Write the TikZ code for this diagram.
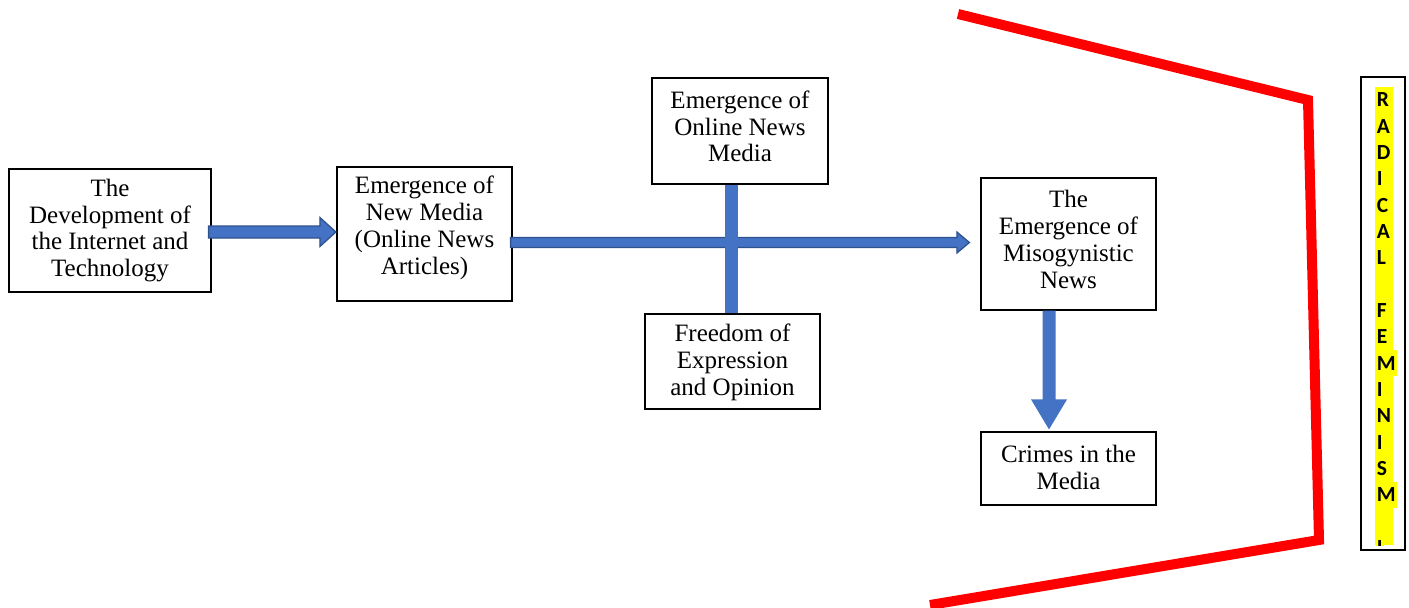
\documentclass[tikz,border=0pt]{standalone}
\usepackage{fontspec}
\setmainfont{Liberation Serif}
\newfontfamily\radfont{Carlito}
\usetikzlibrary{calc}
\definecolor{abl}{HTML}{4472C4}
\definecolor{abd}{HTML}{2F528F}
\definecolor{hly}{HTML}{FFFF00}
\newcommand\harr[6]{%
  \draw[#6] ($(#1)+(0,-#3)$) -- ($(#2)+(-#5,-#3)$) -- ($(#2)+(-#5,-#4)$) -- (#2)
    -- ($(#2)+(-#5,#4)$) -- ($(#2)+(-#5,#3)$) -- ($(#1)+(0,#3)$) -- cycle;}
\begin{document}
\begin{tikzpicture}[x=1pt,y=-1pt,
  box/.style={draw=black,line width=1.2pt,inner sep=0pt},
  txt/.style={align=center,font=\fontsize{25}{26.8}\selectfont,inner sep=0pt},
  barrow/.style={fill=abl,draw=abd,line width=1.3pt,line join=miter},
  letr/.style={font=\radfont\bfseries\fontsize{21.5}{21.5}\selectfont,fill=hly,
    inner xsep=1.2pt,inner ysep=0pt,minimum height=26.33pt,anchor=west},
  redline/.style={draw=red,line width=10pt,line join=miter}]
\useasboundingbox (0,0) rectangle (1409,608);

% boxes
\node[box,minimum width=202,minimum height=123] (b1) at (110,230.5) {};
\node[box,minimum width=175,minimum height=134] (b2) at (424.5,234) {};
\node[box,minimum width=176,minimum height=106] (b3) at (740,131) {};
\node[box,minimum width=175,minimum height=95] (b4) at (732.5,361.5) {};
\node[box,minimum width=175,minimum height=132] (b5) at (1068.5,244) {};
\node[box,minimum width=175,minimum height=73] (b6) at (1068.5,468.5) {};
\node[box,minimum width=44,minimum height=473] (b7) at (1383,313.5) {};

% texts
\node[txt] (t1) at (110,230.5) {The\\Development of\\the Internet and\\Technology};
\node[txt] (t2) at (424.5,228) {Emergence of\\New Media\\(Online News\\Articles)};
\node[txt] (t3) at (740,126.5) {Emergence of\\Online News\\Media};
\node[txt] (t4) at (732.5,362.5) {Freedom of\\Expression\\and Opinion};
\node[txt] (t5) at (1068.5,239.5) {The\\Emergence of\\Misogynistic\\News};
\node[txt] (t6) at (1068.5,467.5) {Crimes in the\\Media};

% arrow 1
\path (b1.east |- 0,232) ++(-3,0) coordinate (a1t);
\path (b2.west |- 0,232) ++(-0.5,0) coordinate (a1h);
\harr{a1t}{a1h}{6}{14.5}{16}{barrow}

% arrow 2
\path (b2.east |- 0,242.5) ++(-2,0) coordinate (a2t);
\path (b5.west |- 0,242.5) ++(-11,0) coordinate (a2h);
\harr{a2t}{a2h}{5}{10.5}{12.5}{barrow}

% vertical bar
\path (b3.south -| 731.5,0) coordinate (v1);
\path (b4.north -| 731.5,0) coordinate (v2);
\fill[abl] ($(v1)+(-6.5,0)$) rectangle ($(v2)+(6.5,0)$);

% down arrow
\path (b5.south -| 1049,0) coordinate (d1);
\path (b6.north -| 1049,0) ++(0,-2) coordinate (d2);
\fill[abl] ($(d1)+(-6.5,0)$) -- ($(d2)+(-6.5,-30)$) -- ($(d2)+(-18,-30)$) -- (d2)
  -- ($(d2)+(18,-30)$) -- ($(d2)+(6.5,-30)$) -- ($(d1)+(6.5,0)$) -- cycle;

% red bracket
\coordinate (r1) at (958,14);
\coordinate (r2) at (1308,100);
\coordinate (r3) at (1319,540);
\coordinate (r4) at (930,605);
\draw[redline] (r1) -- (r2) -- (r3) -- (r4);

% vertical label
\begin{scope}
\clip (1362,78) rectangle (1404,545);
\fill[hly] (1374.5,86.8) rectangle (1393,545);
\foreach \c [count=\k from 0] in {R,A,D,I,C,A,L,{},F,E,M,I,N,I,S,M,{},I}
  \node[letr] (L\k) at (1375.5,100+26.33*\k) {\c};
\end{scope}
\end{tikzpicture}
\end{document}
